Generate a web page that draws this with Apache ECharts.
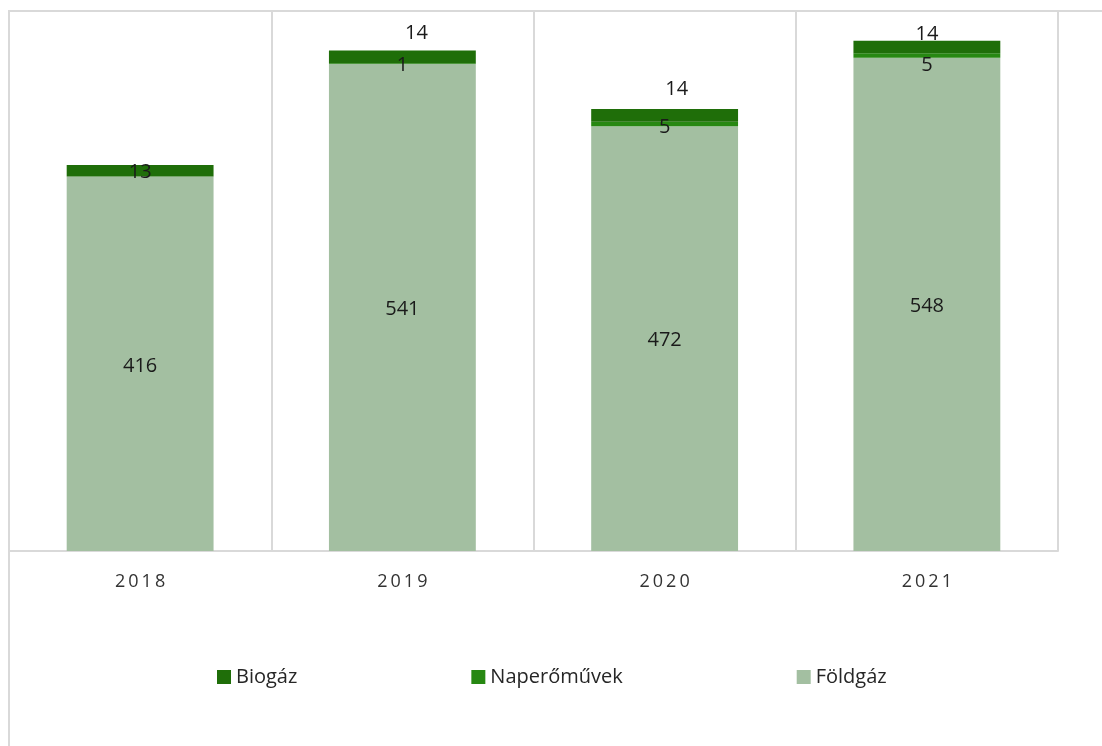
<!DOCTYPE html>
<html>
<head>
<meta charset="utf-8">
<script src="https://cdn.jsdelivr.net/npm/echarts@6/dist/echarts.min.js"></script>
<style>
    html, body { margin: 0; padding: 0; background: #fff; }
    #chart { width: 1102px; height: 746px; }
</style>
</head>
<body>
<div id="chart"></div>
<script>
    // data
    var years = ['2018', '2019', '2020', '2021'];
    var foldgaz = [416, 541, 472, 548];
    var naperomuvek = [0, 1, 5, 5];
    var biogaz = [13, 14, 14, 14];

    // label nudges, as in the original (label style only)
    var biogazOffsets = [[0, 2], [14, -24], [12, -26], [0, -13]];
    var naperoOffsets = [[0, 2], [0, 2], [0, 3], [0, 10]];

    var font = '"Open Sans", Lato, sans-serif';
    var gridColor = '#d9d9d9';

    function withLabels(values, offsets) {
        return values.map(function (v, i) {
            return { value: v, label: { offset: offsets[i] } };
        });
    }

    var labelStyle = {
        show: true,
        position: 'inside',
        offset: [0, 2],
        color: '#1a1a1a',
        fontFamily: font,
        fontSize: 20,
        formatter: function (p) { return p.value ? p.value : ''; }
    };

    var chart = echarts.init(document.getElementById('chart'));
    chart.setOption({
        animation: false,
        graphic: [{
            type: 'rect',
            shape: { x: 9, y: 11, width: 1200, height: 1000 },
            style: { fill: 'none', stroke: gridColor, lineWidth: 2 },
            silent: true
        }],
        grid: { left: 9, right: 44, top: 11, bottom: 195 },
        legend: {
            data: ['Biogáz', 'Naperőművek', 'Földgáz'],
            left: 212,
            top: 662,
            icon: 'rect',
            itemWidth: 14,
            itemHeight: 14,
            itemGap: 174,
            textStyle: { fontFamily: font, fontSize: 20, color: '#262626' }
        },
        xAxis: {
            type: 'category',
            data: years,
            axisLine: { lineStyle: { color: gridColor, width: 2 } },
            axisTick: { show: false },
            axisLabel: {
                margin: 22,
                color: '#333333',
                fontFamily: font,
                fontSize: 18,
                formatter: function (v) { return v.split('').join('\u2009'); }
            },
            splitLine: { show: true, lineStyle: { color: gridColor, width: 2 } }
        },
        yAxis: {
            type: 'value',
            min: 0,
            max: 600,
            show: false,
            splitLine: { show: false }
        },
        series: [
            {
                name: 'Földgáz',
                type: 'bar',
                stack: 'total',
                barWidth: '56%',
                itemStyle: { color: '#a3bfa1' },
                label: labelStyle,
                data: foldgaz
            },
            {
                name: 'Naperőművek',
                type: 'bar',
                stack: 'total',
                itemStyle: { color: '#278812' },
                label: labelStyle,
                data: withLabels(naperomuvek, naperoOffsets)
            },
            {
                name: 'Biogáz',
                type: 'bar',
                stack: 'total',
                itemStyle: { color: '#1f6e09' },
                label: labelStyle,
                data: withLabels(biogaz, biogazOffsets)
            }
        ]
    });
</script>
</body>
</html>
